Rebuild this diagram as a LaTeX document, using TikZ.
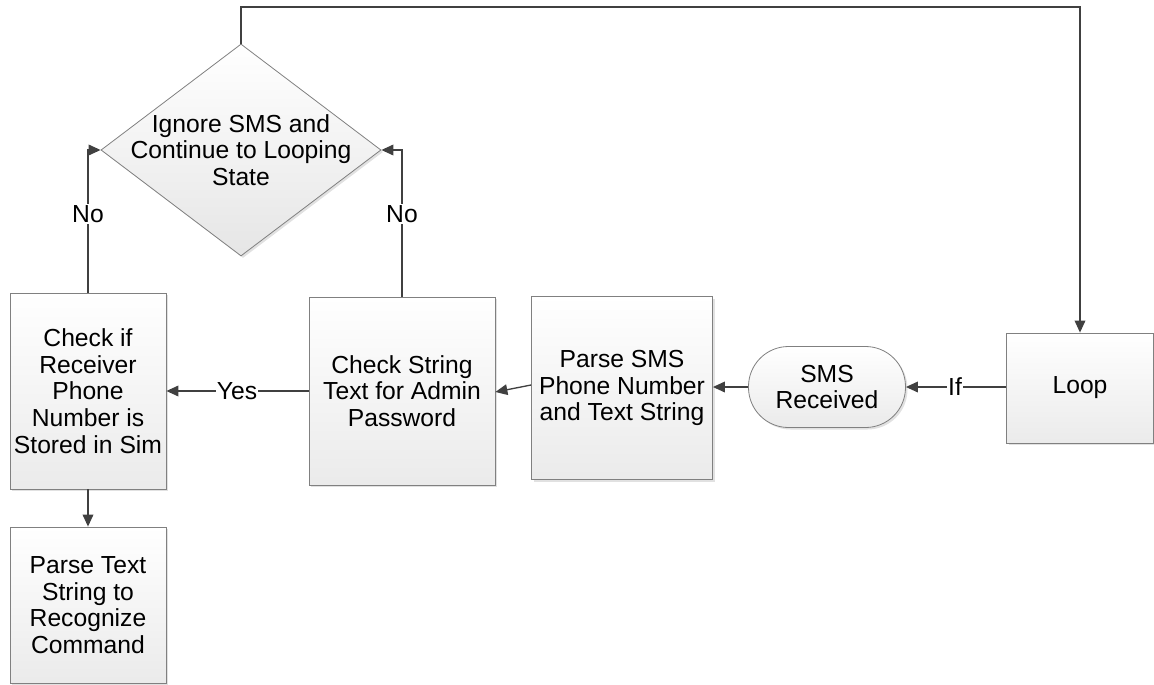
\documentclass[tikz,border=0pt]{standalone}
\usepackage{fontspec}
\setmainfont{Liberation Sans}
\usetikzlibrary{shapes.geometric,arrows.meta,shadows}
\begin{document}
\begin{tikzpicture}[x=0.75pt,y=-0.75pt,
  every node/.style={font=\fontsize{18.5}{20}\selectfont, align=center},
  box/.style={draw=black!50, line width=0.6pt, top color=white, bottom color=black!8,
    drop shadow={shadow xshift=1.5pt, shadow yshift=-1.5pt, fill=black!15, opacity=0.8},
    inner sep=0pt},
  term/.style={box, rounded corners=30pt},
  dec/.style={draw=black!50, line width=0.6pt, top color=white, bottom color=black!10,
    shape=diamond, inner sep=0pt,
    drop shadow={shadow xshift=1.5pt, shadow yshift=-1.5pt, fill=black!15, opacity=0.8}},
  conn/.style={draw=black!75, line width=1pt, -{Triangle[length=9pt,width=8pt]}},
  lbl/.style={fill=white, inner sep=1pt}]
\useasboundingbox (0,0) rectangle (1154,685);

\node[dec, minimum width=210pt, minimum height=159pt] (ign) at (241,150) {};
\node at (241,150) {Ignore SMS and\\Continue to Looping\\State};

\node[box, minimum width=117pt, minimum height=147pt] (chk) at (88,391)
  {Check if\\Receiver\\Phone\\Number is\\Stored in Sim};
\node[box, minimum width=139.5pt, minimum height=141pt] (pwd) at (402,391)
  {Check String\\Text for Admin\\Password};
\node[box, minimum width=135.75pt, minimum height=137.25pt] (parse) at (622,388)
  {Parse SMS\\Phone Number\\and Text String};
\node[term, minimum width=117.75pt, minimum height=60.75pt] (sms) at (827,387)
  {SMS\\Received};
\node[box, minimum width=110pt, minimum height=82.5pt] (loop) at (1080,388) {Loop};
\node[box, minimum width=117pt, minimum height=117pt] (cmd) at (88,605)
  {Parse Text\\String to\\Recognize\\Command};

\coordinate (tl) at (241,7);
\coordinate (tr) at (1080,7);
\draw[conn] (ign.north) -- (tl) -- (tr) -- (loop.north);

\draw[conn] (chk.north) -- (chk.north |- ign.west) -- (ign.west);
\node[lbl] at (88,214) {No};
\draw[conn] (pwd.north) -- (pwd.north |- ign.east) -- (ign.east);
\node[lbl] at (402,214) {No};

\draw[conn] (pwd.west) -- (chk.east);
\node[lbl] at (237,391) {Yes};
\draw[conn] ([yshift=2.25pt]parse.west) -- ([yshift=-0.75pt]pwd.east);
\draw[conn] (sms.west) -- (sms.west -| parse.east);
\draw[conn] (loop.west |- sms.east) -- (sms.east);
\node[lbl] at (955,387) {If};
\draw[conn] (chk.south) -- (cmd.north);
\end{tikzpicture}
\end{document}
